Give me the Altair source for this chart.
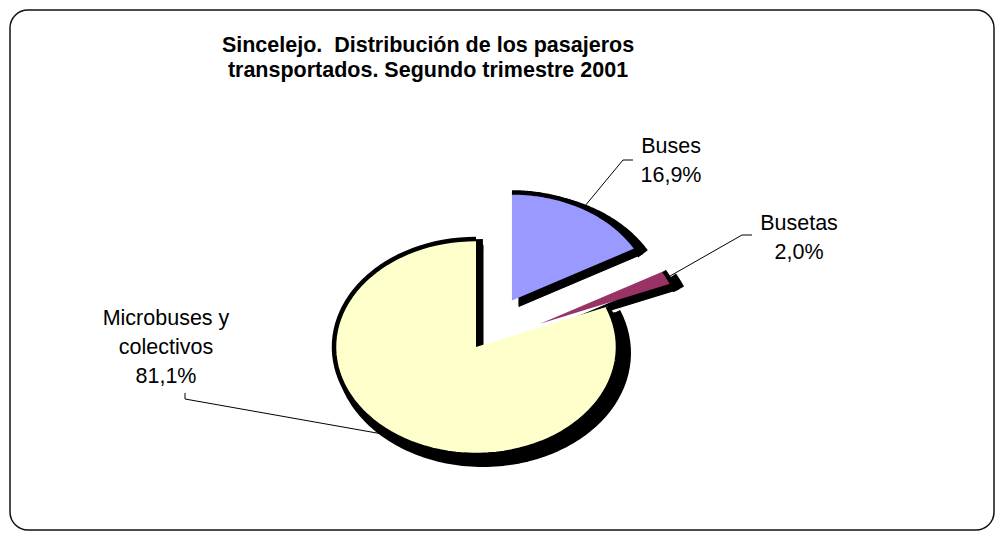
import altair as alt
import numpy as np
import pandas as pd

# ---------------- data ----------------
categories = ["Buses", "Busetas", "Microbuses y colectivos"]
label_lines = ["Buses", "Busetas", "Microbuses y|colectivos"]
shares = [16.9, 2.0, 81.1]
explode = [0.5, 0.5, 0.0]
colors = ["#9999FF", "#993366", "#FFFFCC"]
title_lines = ["Sincelejo.\u00a0 Distribución de los pasajeros",
               "transportados. Segundo trimestre 2001"]

# ---------------- layout (page pixels) ----------------
W, H = 984, 520          # plot area
OX, OY = 10, 10          # page position of the plot area
CX, CY = 476, 347        # page centre of the (non-exploded) pie
RX, RY = 142, 108        # ellipse radii in pixels
N = 90                   # arc resolution

x_dom = [(OX - CX) / RX, (OX + W - CX) / RX]
y_dom = [(CY - (OY + H)) / RY, (CY - OY) / RY]


def to_data(px, py):
    return (px - CX) / RX, (CY - py) / RY


# label anchors (centre x, first baseline) and leader-line elbows, in page px
label_anchor = {"Buses": (671, 153), "Busetas": (799, 230),
                "Microbuses y colectivos": (166, 325)}
leader_elbow = {"Buses": [(633, 160), (623, 160)],
                "Busetas": [(752, 235), (742, 235)],
                "Microbuses y colectivos": [(185, 393), (185, 399)]}

slices = pd.DataFrame({"category": categories, "value": shares,
                       "explode": explode, "order": list(range(len(categories)))})

# ---------------- pie geometry via Vega transforms ----------------
base = (
    alt.Chart(slices)
    .transform_joinaggregate(total="sum(value)")
    .transform_window(cum="sum(value)", sort=[alt.SortField("order")])
    .transform_calculate(a0="2*PI*(datum.cum - datum.value)/datum.total")
    .transform_calculate(a1="2*PI*datum.cum/datum.total")
    .transform_calculate(mid="(datum.a0 + datum.a1)/2")
    .transform_calculate(ex="datum.explode*sin(datum.mid)")
    .transform_calculate(ey="datum.explode*cos(datum.mid)")
    .transform_calculate(idx=f"sequence(0, {N + 3})")
    .transform_flatten(["idx"])
    .transform_calculate(isv=f"datum.idx == 0 || datum.idx == {N + 2}")
    .transform_calculate(th=f"datum.a0 + (datum.a1 - datum.a0)*clamp((datum.idx - 1)/{N}, 0, 1)")
    .transform_calculate(px="datum.ex + (datum.isv ? 0 : sin(datum.th))")
    .transform_calculate(py="datum.ey + (datum.isv ? 0 : cos(datum.th))")
)

X = alt.X("px:Q", scale=alt.Scale(domain=x_dom, nice=False, zero=False), axis=None)
Y = alt.Y("py:Q", scale=alt.Scale(domain=y_dom, nice=False, zero=False), axis=None)
enc = dict(x=X, y=Y, order=alt.Order("idx:Q"), detail="category:N")

SDX, SDY = 7, 6

shadow_poly = base.mark_line(fill="black", stroke="black", strokeWidth=1,
                             xOffset=SDX, yOffset=SDY, strokeJoin="round").encode(**enc)

arcs = base.transform_filter(f"datum.idx >= 1 && datum.idx <= {N + 1}")
shadow_arc = arcs.mark_line(stroke="black", strokeWidth=12, strokeCap="butt",
                            strokeJoin="round", xOffset=SDX, yOffset=SDY).encode(**enc)

fill_poly = base.mark_line(strokeOpacity=0).encode(
    fill=alt.Fill("category:N", scale=alt.Scale(domain=categories, range=colors), legend=None),
    **enc)

main_arc = arcs.mark_line(stroke="black", strokeWidth=4.5, strokeCap="butt",
                          strokeJoin="round").encode(**enc)

# ---------------- leader lines ----------------
tot = float(np.sum(shares))
cum = np.cumsum(shares)
rows = []
for i, cat in enumerate(categories):
    a0 = 2 * np.pi * (cum[i] - shares[i]) / tot
    a1 = 2 * np.pi * cum[i] / tot
    mid = (a0 + a1) / 2
    ex, ey = explode[i] * np.sin(mid), explode[i] * np.cos(mid)
    pts = [to_data(*p) for p in leader_elbow[cat]]
    pts.append((ex + np.sin(mid), ey + np.cos(mid)))
    for k, (x, y) in enumerate(pts):
        rows.append({"category": cat, "seq": k, "lx": x, "ly": y})
leaders = pd.DataFrame(rows)

leader_layer = alt.Chart(leaders).mark_line(stroke="black", strokeWidth=1).encode(
    x=alt.X("lx:Q", scale=alt.Scale(domain=x_dom, nice=False, zero=False), axis=None),
    y=alt.Y("ly:Q", scale=alt.Scale(domain=y_dom, nice=False, zero=False), axis=None),
    order=alt.Order("seq:Q"), detail="category:N")

# ---------------- labels ----------------
lab_rows = []
for i, cat in enumerate(categories):
    pct = f"{shares[i]:.1f}".replace(".", ",") + "%"
    x, y = to_data(*label_anchor[cat])
    lab_rows.append({"text": label_lines[i] + "|" + pct, "tx": x, "ty": y})
labels = pd.DataFrame(lab_rows)

label_layer = alt.Chart(labels).mark_text(
    font="Liberation Sans", fontSize=21.5, align="center", baseline="alphabetic",
    lineBreak="|", lineHeight=29, color="black").encode(
    x=alt.X("tx:Q", scale=alt.Scale(domain=x_dom, nice=False, zero=False), axis=None),
    y=alt.Y("ty:Q", scale=alt.Scale(domain=y_dom, nice=False, zero=False), axis=None),
    text="text:N")

title_layer = alt.Chart(pd.DataFrame({"t": ["|".join(title_lines)]})).mark_text(
    font="Liberation Sans", fontSize=21.5, fontWeight="bold", align="center",
    baseline="alphabetic", lineBreak="|", lineHeight=25, color="black").encode(
    x=alt.value(428 - OX), y=alt.value(52 - OY), text="t:N")

chart = alt.layer(
    shadow_poly, shadow_arc, fill_poly, main_arc, leader_layer, label_layer, title_layer
).properties(
    width=W, height=H, padding=2, autosize=alt.AutoSizeParams(type="none"),
    background="white"
).configure_view(stroke="#111111", strokeWidth=1.5, cornerRadius=18)

chart.save("out.html", embed_options={"renderer": "svg", "actions": False})
